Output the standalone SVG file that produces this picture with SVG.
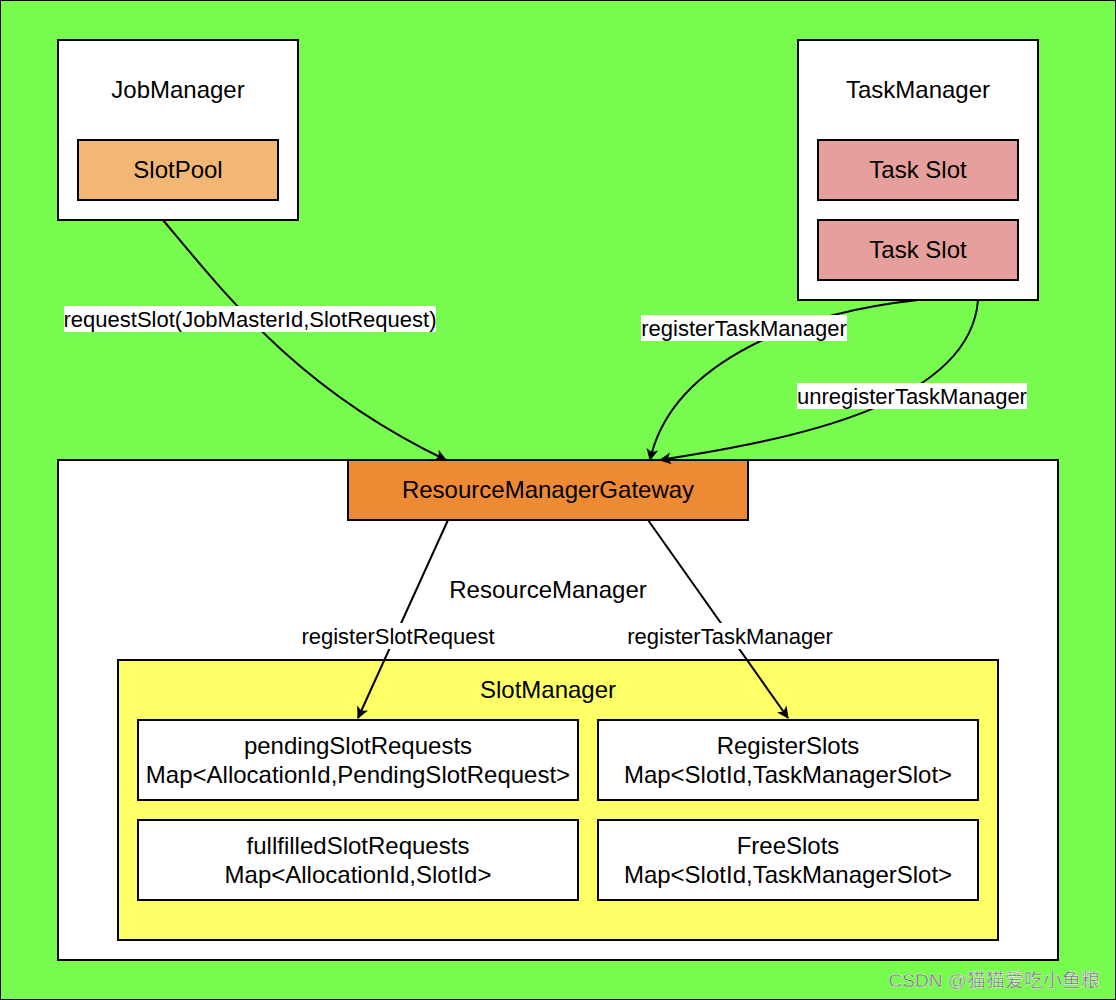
<svg xmlns="http://www.w3.org/2000/svg" width="1116" height="1000" viewBox="0 0 1116 1000">
<style>
.box{stroke:#000;stroke-width:2}
.t{font-family:"Liberation Sans",Arial,sans-serif;font-size:24px;fill:#000;text-anchor:middle}
.l{font-family:"Liberation Sans",Arial,sans-serif;font-size:22px;fill:#000;text-anchor:middle}
.c{fill:none;stroke:#000;stroke-width:2}
.lb{fill:#fff}
</style>
<defs>
<marker id="ah" viewBox="0 0 12 12" refX="11" refY="6" markerWidth="12" markerHeight="12" markerUnits="userSpaceOnUse" orient="auto">
<path d="M0,0 L12,6 L0,12 L3,6 Z" fill="#000"/>
</marker>
</defs>
<rect x="0" y="0" width="1116" height="1000" fill="#77FB4F" stroke="#000" stroke-width="2"/>
<g id="jobmanager">
<rect class="box" x="58" y="40" width="240" height="180" fill="#fff"/>
<text class="t" x="178" y="98">JobManager</text>
</g>
<g id="slotpool">
<rect class="box" x="78" y="140" width="200" height="60" fill="#F2B774"/>
<text class="t" x="178" y="178">SlotPool</text>
</g>
<g id="taskmanager">
<rect class="box" x="798" y="40" width="240" height="260" fill="#fff"/>
<text class="t" x="918" y="98">TaskManager</text>
</g>
<g id="taskslot1">
<rect class="box" x="818" y="140" width="200" height="60" fill="#E5A09D"/>
<text class="t" x="918" y="178">Task Slot</text>
</g>
<g id="taskslot2">
<rect class="box" x="818" y="220" width="200" height="60" fill="#E5A09D"/>
<text class="t" x="918" y="258">Task Slot</text>
</g>
<g id="resourcemanager">
<rect class="box" x="58" y="460" width="1000" height="500" fill="#fff"/>
<text class="t" x="548" y="598">ResourceManager</text>
</g>
<g id="gateway">
<rect class="box" x="348" y="460" width="400" height="60" fill="#EF8A34"/>
<text class="t" x="548" y="498">ResourceManagerGateway</text>
</g>
<g id="slotmanager">
<rect class="box" x="118" y="660" width="880" height="280" fill="#FFFF66"/>
<text class="t" x="548" y="698">SlotManager</text>
</g>
<g id="pending">
<rect class="box" x="138" y="720" width="440" height="80" fill="#fff"/>
<text class="t" x="358" y="754">pendingSlotRequests</text>
<text class="t" x="358" y="783">Map&lt;AllocationId,PendingSlotRequest&gt;</text>
</g>
<g id="registerslots">
<rect class="box" x="598" y="720" width="380" height="80" fill="#fff"/>
<text class="t" x="788" y="754">RegisterSlots</text>
<text class="t" x="788" y="783">Map&lt;SlotId,TaskManagerSlot&gt;</text>
</g>
<g id="fulfilled">
<rect class="box" x="138" y="820" width="440" height="80" fill="#fff"/>
<text class="t" x="358" y="854">fullfilledSlotRequests</text>
<text class="t" x="358" y="883">Map&lt;AllocationId,SlotId&gt;</text>
</g>
<g id="freeslots">
<rect class="box" x="598" y="820" width="380" height="80" fill="#fff"/>
<text class="t" x="788" y="854">FreeSlots</text>
<text class="t" x="788" y="883">Map&lt;SlotId,TaskManagerSlot&gt;</text>
</g>
<g id="connectors">
<path class="c" d="M163 220 C 230 300, 300 390, 446 460" marker-end="url(#ah)"/>
<path class="c" d="M918 300 C 780 315, 670 370, 650 460" marker-end="url(#ah)"/>
<path class="c" d="M978 300 C 970 405, 790 440, 660 460" marker-end="url(#ah)"/>
<path class="c" d="M448 520 L 358 718" marker-end="url(#ah)"/>
<path class="c" d="M648 520 L 788 718" marker-end="url(#ah)"/>
<rect class="lb" x="64" y="306" width="372" height="26"/>
<text class="l" x="250" y="327">requestSlot(JobMasterId,SlotRequest)</text>
<rect class="lb" x="641" y="315" width="206" height="26"/>
<text class="l" x="744" y="336">registerTaskManager</text>
<rect class="lb" x="797" y="383" width="230" height="26"/>
<text class="l" x="912" y="404">unregisterTaskManager</text>
<rect class="lb" x="298" y="623" width="200" height="26"/>
<text class="l" x="398" y="644">registerSlotRequest</text>
<rect class="lb" x="624" y="623" width="212" height="26"/>
<text class="l" x="730" y="644">registerTaskManager</text>
</g>
<text x="1100" y="987" font-family="'Liberation Sans','Noto Sans CJK SC',sans-serif" font-size="19" fill="#666" text-anchor="end" stroke="#fff" stroke-width="0.4">CSDN @猫猫爱吃小鱼粮</text>
</svg>
